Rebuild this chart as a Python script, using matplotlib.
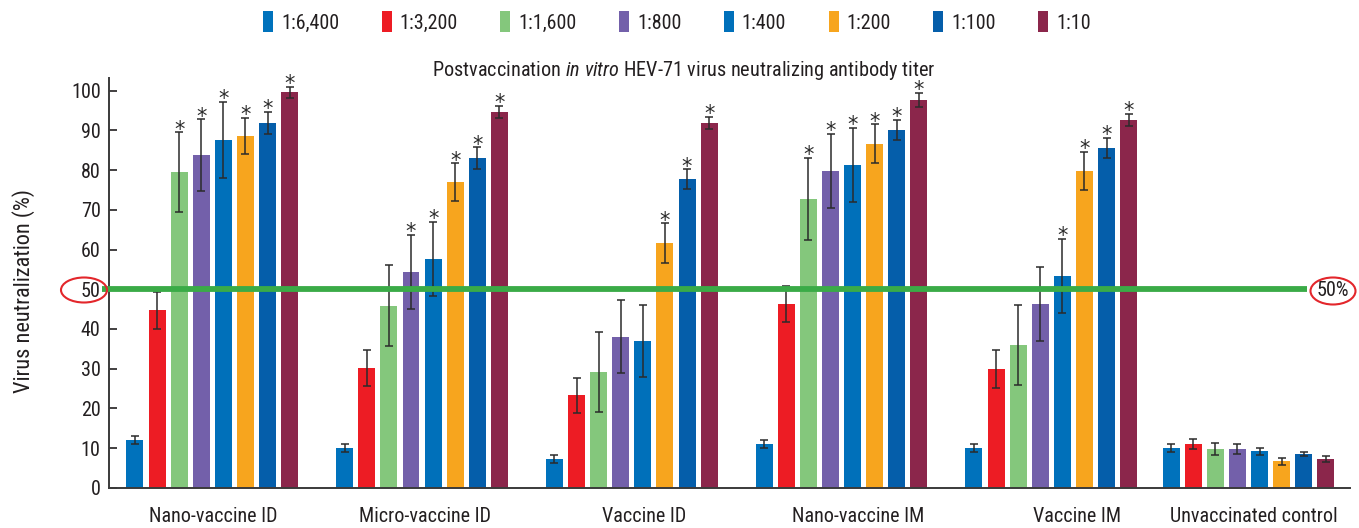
import numpy as np
import matplotlib
matplotlib.use("Agg")
import matplotlib.pyplot as plt
from matplotlib.patches import Ellipse
from matplotlib import font_manager

names = {f.name for f in font_manager.fontManager.ttflist}
FONT = None
for cand in ["Liberation Sans Narrow", "Roboto Condensed", "Open Sans Condensed", "DejaVu Sans Condensed"]:
    if cand in names:
        FONT = cand
        break
STRETCH = 'normal'
if FONT is None:
    FONT = "DejaVu Sans"
    STRETCH = 'condensed'
plt.rcParams['font.family'] = [FONT, 'DejaVu Sans']
plt.rcParams['font.stretch'] = STRETCH
plt.rcParams['mathtext.fontset'] = 'custom'
plt.rcParams['mathtext.rm'] = FONT
plt.rcParams['mathtext.it'] = FONT + ':italic'

groups = ["Nano-vaccine ID", "Micro-vaccine ID", "Vaccine ID",
          "Nano-vaccine IM", "Vaccine IM", "Unvaccinated control"]
dilutions = ["1:6,400", "1:3,200", "1:1,600", "1:800", "1:400", "1:200", "1:100", "1:10"]
colors = ["#0072bc", "#ed1c24", "#84c77c", "#7360aa", "#0070ba", "#f7a51e", "#055eaa", "#8b264b"]

# values per group (rows) x dilution (cols)
values = [
    [12.0, 44.7, 79.5, 83.8, 87.6, 88.6, 91.8, 99.6],
    [10.0, 30.1, 45.8, 54.3, 57.6, 77.0, 83.0, 94.6],
    [7.2, 23.3, 29.1, 38.0, 36.9, 61.6, 77.7, 91.9],
    [11.0, 46.3, 72.7, 79.8, 81.3, 86.6, 90.1, 97.6],
    [10.0, 29.9, 35.9, 46.3, 53.3, 79.8, 85.6, 92.6],
    [10.0, 11.0, 9.7, 9.7, 9.2, 6.7, 8.5, 7.2],
]
errors = [
    [1.0, 4.6, 10.0, 9.0, 9.6, 4.6, 2.8, 1.4],
    [0.9, 4.6, 10.2, 9.3, 9.4, 4.7, 2.7, 1.6],
    [1.0, 4.4, 10.0, 9.2, 9.1, 5.0, 2.5, 1.5],
    [1.0, 4.6, 10.3, 9.3, 9.3, 4.9, 2.5, 1.8],
    [1.0, 4.7, 10.1, 9.4, 9.4, 4.7, 2.5, 1.5],
    [1.0, 1.2, 1.5, 1.2, 0.9, 0.9, 0.6, 0.8],
]
significant = [
    [0, 0, 1, 1, 1, 1, 1, 1],
    [0, 0, 0, 1, 1, 1, 1, 1],
    [0, 0, 0, 0, 0, 1, 1, 1],
    [0, 0, 1, 1, 1, 1, 1, 1],
    [0, 0, 0, 0, 1, 1, 1, 1],
    [0, 0, 0, 0, 0, 0, 0, 0],
]
yticks = [0, 10, 20, 30, 40, 50, 60, 70, 80, 90, 100]
threshold = 50

# layout (positions of groups / labels along the category axis)
group_pos = np.array([0, 1, 2, 3, 4, 4.94])
label_pos = [0.003, 1.014, 2.058, 3.078, 4.122, 4.966]

W, H = 1359, 528
fig = plt.figure(figsize=(W / 100, H / 100), dpi=100)
ax = fig.add_axes([109 / W, 1 - 487.7 / H, (1350 - 109) / W, (487.7 - 78) / H])

vals = np.array(values)
errs = np.array(errors)
sig = np.array(significant)
pitch = 0.1054
bw = 0.081
for j, (lab, col) in enumerate(zip(dilutions, colors)):
    x = group_pos + (j - 3.5) * pitch
    ax.bar(x, vals[:, j], width=bw, color=col, label=lab, zorder=2)
    ax.errorbar(x, vals[:, j], yerr=errs[:, j], fmt='none', ecolor='#2b2b2b',
                elinewidth=1.1, capsize=3.2, capthick=1.1, zorder=3)
    for i in range(len(groups)):
        if sig[i, j]:
            ax.annotate("*", (x[i], vals[i, j] + errs[i, j]), xytext=(0, 2.0),
                        textcoords='offset points', ha='center', va='center',
                        fontsize=15, color='#2b2b2b', zorder=4,
                        family='DejaVu Sans')

ax.plot([-0.526, 5.219], [threshold, threshold], color='#3aab47', lw=4.2,
        solid_capstyle='butt', clip_on=False, zorder=5)

ax.set_xlim(-0.4925, 5.424)
ax.set_ylim(0, 103.2)
ax.set_yticks(yticks)
ax.set_xticks(label_pos)
ax.set_xticklabels(groups, fontsize=14.5, color='#231f20')
ax.tick_params(axis='x', length=0, pad=14)
ax.tick_params(axis='y', direction='in', length=6, width=1.2, labelsize=14.5,
               colors='#231f20', pad=6)
for s in ['top', 'right']:
    ax.spines[s].set_visible(False)
for s in ['left', 'bottom']:
    ax.spines[s].set_color('#3a3a3a')
    ax.spines[s].set_linewidth(1.4)
ax.set_ylabel("Virus neutralization (%)", fontsize=16, color='#231f20')
ax.yaxis.set_label_coords((35 - 109) / 1241, (487.7 - 291) / 409.7)

fig.text(684 / W, 1 - 75.5 / H,
         r"Postvaccination $\mathit{in\ vitro}$ HEV-71 virus neutralizing antibody titer",
         ha='center', va='baseline', fontsize=14.6, color='#231f20')

leg = fig.legend(loc='center', bbox_to_anchor=(677 / W, 1 - 22 / H), ncol=8,
                 frameon=False, handlelength=0.5, handleheight=1.2,
                 handletextpad=0.4, columnspacing=2.1, fontsize=14.5)
for t in leg.get_texts():
    t.set_color('#231f20')

fig.add_artist(Ellipse((84 / W, 1 - 290 / H), 46 / W, 25 / H, transform=fig.transFigure,
                       fill=False, edgecolor='#e3262b', lw=1.5))
fig.add_artist(Ellipse((1333 / W, 1 - 291 / H), 45 / W, 27 / H, transform=fig.transFigure,
                       fill=False, edgecolor='#e3262b', lw=1.5))
fig.text(1333 / W, 1 - 291 / H, "50%", ha='center', va='center', fontsize=14.5, color='#231f20')

fig.savefig("out.png", dpi=100)
